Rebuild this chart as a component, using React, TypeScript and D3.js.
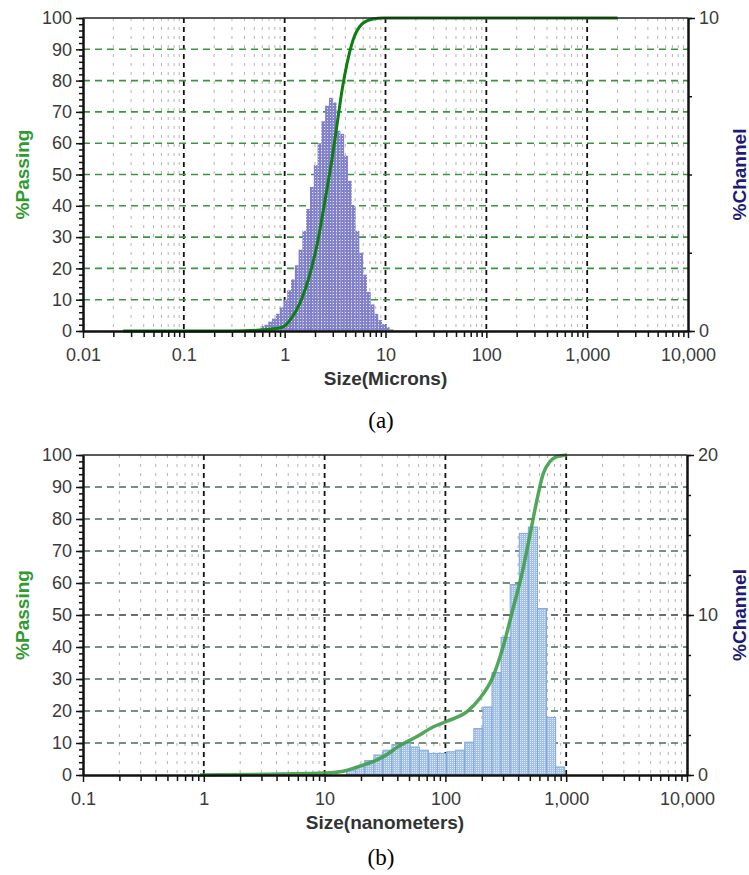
import React, { useEffect, useRef } from "react";
import * as d3 from "d3";

// panel (a): channel edges in microns and % channel per bin
const microEdges = [0.578, 0.63, 0.688, 0.75, 0.818, 0.892, 0.972, 1.06, 1.156, 1.261, 1.375, 1.499, 1.635, 1.783, 1.945, 2.121, 2.312, 2.52, 2.75, 3.0, 3.27, 3.57, 3.89, 4.24, 4.62, 5.04, 5.5, 6.0, 6.54, 7.13, 7.78, 8.48, 9.25, 10.1, 11.0, 12.0];
const microChannel = [0.15, 0.2, 0.3, 0.4, 0.55, 0.75, 1.0, 1.3, 1.65, 2.1, 2.6, 3.2, 3.9, 4.6, 5.3, 6.0, 6.7, 7.2, 7.45, 7.3, 6.4, 6.3, 5.6, 4.8, 4.0, 3.2, 2.5, 1.8, 1.25, 0.85, 0.55, 0.35, 0.22, 0.12, 0.05];
const microCurveSize = [0.025, 0.3, 0.57, 0.72, 0.9, 1.0, 1.13, 1.42, 1.79, 2.14, 2.52, 2.95, 3.31, 3.71, 4.16, 4.77, 6.0, 7.5, 9.5, 12, 2000];
const microCurvePass = [0, 0, 0.3, 0.6, 1.0, 1.6, 3.5, 9, 18.5, 29, 42, 55, 66, 77, 85.6, 93, 98.4, 99.7, 100, 100, 100];
const microTicks = [0.01, 0.1, 1, 10, 100, 1000, 10000];

// panel (b): channel edges in nanometers and % channel per bin
const nanoEdges = [15.2, 18.1, 21.5, 25.6, 30.4, 36.1, 43.0, 51.1, 60.8, 72.3, 85.9, 102.2, 121.5, 144.5, 171.9, 204.4, 243.1, 289.1, 343.8, 408.8, 486.2, 578.2, 688, 818, 972];
const nanoChannel = [0.3, 0.55, 0.9, 1.25, 1.55, 1.9, 2.0, 1.75, 1.55, 1.35, 1.35, 1.45, 1.55, 2.05, 2.9, 4.25, 6.4, 8.6, 11.9, 15.1, 15.5, 10.4, 3.6, 0.5];
const nanoCurveSize = [0.93, 4.5, 10, 13.4, 20.4, 25.2, 29.9, 42.1, 58.2, 78.9, 103, 151, 193, 243, 300, 363, 431, 501, 573, 643, 735, 839, 1016];
const nanoCurvePass = [0, 0.3, 0.6, 1.0, 3.0, 4.2, 5.5, 9.2, 12, 15, 16.8, 19.8, 24, 30, 40, 52, 63, 75, 86, 94, 98, 99.5, 100];
const nanoTicks = [0.1, 1, 10, 100, 1000, 10000];

const passingTicks = d3.range(0, 101, 10);
const FONT = "'Liberation Sans', Arial, sans-serif";

function drawPanel(svg, p) {
  const x = d3.scaleLog().domain([p.ticks[0], p.ticks[p.ticks.length - 1]]).range([p.left, p.right]);
  const yL = d3.scaleLinear().domain([0, 100]).range([p.bottom, p.top]);
  const yR = d3.scaleLinear().domain([0, p.rightMax]).range([p.bottom, p.top]);
  const g = svg.append("g");

  let minors = [];
  p.ticks.slice(0, -1).forEach(d => {
    for (let k = 2; k <= 9; k++) minors.push(d * k);
  });

  // grid
  g.append("g")
    .selectAll("line")
    .data(minors)
    .join("line")
    .attr("x1", d => x(d))
    .attr("x2", d => x(d))
    .attr("y1", p.top)
    .attr("y2", p.bottom)
    .attr("stroke", "#b4b4b4")
    .attr("stroke-width", 1)
    .attr("stroke-dasharray", "3,6");

  g.append("g")
    .selectAll("line")
    .data(p.ticks.slice(1, -1))
    .join("line")
    .attr("x1", d => x(d))
    .attr("x2", d => x(d))
    .attr("y1", p.top)
    .attr("y2", p.bottom)
    .attr("stroke", "#111")
    .attr("stroke-width", 1.8)
    .attr("stroke-dasharray", "5,4");

  g.append("g")
    .selectAll("line")
    .data(d3.range(10, 100, 10))
    .join("line")
    .attr("x1", p.left)
    .attr("x2", p.right)
    .attr("y1", d => yL(d))
    .attr("y2", d => yL(d))
    .attr("stroke", d => (p.darkMid && d === 50 ? "#3a3f3a" : p.gridColor))
    .attr("stroke-width", 1.6)
    .attr("stroke-dasharray", "7,5");

  // % channel bars
  g.append("g")
    .selectAll("rect")
    .data(p.channel)
    .join("rect")
    .attr("x", (d, i) => x(p.edges[i]))
    .attr("width", (d, i) => x(p.edges[i + 1]) - x(p.edges[i]))
    .attr("y", d => yR(d))
    .attr("height", d => p.bottom - yR(d))
    .attr("fill", `url(#${p.pattern})`)
    .attr("stroke", p.barStroke)
    .attr("stroke-width", p.barStroke === "none" ? 0 : 1);

  // % passing curve
  const line = d3
    .line()
    .x(d => x(d[0]))
    .y(d => yL(d[1]))
    .curve(d3.curveMonotoneX);

  g.append("path")
    .datum(p.curveSize.map((s, i) => [s, p.curvePass[i]]))
    .attr("d", line)
    .attr("fill", "none")
    .attr("stroke", p.curveColor)
    .attr("stroke-width", p.curveWidth)
    .attr("stroke-opacity", p.curveOpacity);

  // frame
  g.append("line")
    .attr("x1", p.left).attr("x2", p.right)
    .attr("y1", p.top).attr("y2", p.top)
    .attr("stroke", "#222").attr("stroke-width", 1.5);

  const styleAxis = sel => {
    sel.attr("font-family", FONT).attr("font-size", 18).attr("color", "#111");
    sel.selectAll("text").attr("fill", "#3a3a3a");
    sel.select(".domain").attr("stroke-width", 2);
    sel.selectAll(".tick line").attr("stroke-width", 1.5);
  };

  // left axis
  g.append("g")
    .attr("transform", `translate(${p.left},0)`)
    .call(d3.axisLeft(yL).tickValues(d3.range(0, 101, 2)).tickSize(4).tickSizeOuter(0).tickFormat(() => ""))
    .call(styleAxis);
  g.append("g")
    .attr("transform", `translate(${p.left},0)`)
    .call(d3.axisLeft(yL).tickValues(passingTicks).tickSize(7).tickSizeOuter(0).tickPadding(4))
    .call(styleAxis);

  // right axis
  g.append("g")
    .attr("transform", `translate(${p.right},0)`)
    .call(d3.axisRight(yR).tickValues(d3.range(0, p.rightMax + 0.1, 2.5)).tickSize(4).tickSizeOuter(0).tickFormat(() => ""))
    .call(styleAxis);
  g.append("g")
    .attr("transform", `translate(${p.right},0)`)
    .call(d3.axisRight(yR).tickValues(p.rightTicks).tickSize(7).tickSizeOuter(0).tickPadding(4))
    .call(styleAxis);

  // bottom axis
  g.append("g")
    .attr("transform", `translate(0,${p.bottom})`)
    .call(d3.axisBottom(x).tickValues(minors).tickSize(6).tickSizeOuter(0).tickFormat(() => ""))
    .call(styleAxis);
  g.append("g")
    .attr("transform", `translate(0,${p.bottom})`)
    .call(d3.axisBottom(x).tickValues(p.ticks).tickSize(7).tickSizeOuter(0).tickPadding(10).tickFormat(d3.format(",")))
    .call(styleAxis);

  // titles
  g.append("text")
    .attr("x", (p.left + p.right) / 2)
    .attr("y", p.bottom + 54)
    .attr("text-anchor", "middle")
    .attr("font-family", FONT)
    .attr("font-weight", "bold")
    .attr("font-size", 19)
    .attr("fill", "#333")
    .text(p.xTitle);

  const mid = (p.top + p.bottom) / 2;
  g.append("text")
    .attr("transform", `translate(29,${mid}) rotate(-90)`)
    .attr("text-anchor", "middle")
    .attr("font-family", FONT)
    .attr("font-weight", "bold")
    .attr("font-size", 19)
    .attr("fill", "#2f9a2f")
    .text("%Passing");

  g.append("text")
    .attr("transform", `translate(746,${mid}) rotate(-90)`)
    .attr("text-anchor", "middle")
    .attr("font-family", FONT)
    .attr("font-weight", "bold")
    .attr("font-size", 19)
    .attr("fill", "#1c1c78")
    .text("%Channel");

  g.append("text")
    .attr("x", 381)
    .attr("y", p.bottom + p.tagOffset)
    .attr("text-anchor", "middle")
    .attr("font-family", "'Liberation Serif', 'Times New Roman', serif")
    .attr("font-size", 23)
    .attr("fill", "#000")
    .text(p.tag);
}

export default function App() {
  const ref = useRef(null);

  useEffect(() => {
    const svg = d3.select(ref.current);
    svg.selectAll("*").remove();

    const defs = svg.append("defs");
    const patA = defs.append("pattern")
      .attr("id", "dotsA")
      .attr("patternUnits", "userSpaceOnUse")
      .attr("width", 3)
      .attr("height", 3);
    patA.append("rect").attr("width", 3).attr("height", 3).attr("fill", "#8080cb");
    patA.append("rect").attr("width", 1).attr("height", 1).attr("fill", "#e4e4f6");

    const patB = defs.append("pattern")
      .attr("id", "dotsB")
      .attr("patternUnits", "userSpaceOnUse")
      .attr("width", 2)
      .attr("height", 2);
    patB.append("rect").attr("width", 2).attr("height", 2).attr("fill", "#a2c0e8");
    patB.append("rect").attr("width", 1).attr("height", 1).attr("fill", "#dfe9f7");

    svg.append("rect").attr("width", 749).attr("height", 875).attr("fill", "#fff");

    drawPanel(svg, {
      left: 83, right: 688, top: 18, bottom: 331,
      ticks: microTicks,
      edges: microEdges, channel: microChannel,
      curveSize: microCurveSize, curvePass: microCurvePass,
      rightMax: 10, rightTicks: [0, 10],
      gridColor: "#3b963b", darkMid: false,
      pattern: "dotsA", barStroke: "none",
      curveColor: "#0e7d12", curveWidth: 3, curveOpacity: 1,
      xTitle: "Size(Microns)", tag: "(a)", tagOffset: 97
    });

    drawPanel(svg, {
      left: 83, right: 687, top: 455, bottom: 775,
      ticks: nanoTicks,
      edges: nanoEdges, channel: nanoChannel,
      curveSize: nanoCurveSize, curvePass: nanoCurvePass,
      rightMax: 20, rightTicks: [0, 10, 20],
      gridColor: "#4b6e56", darkMid: true,
      pattern: "dotsB", barStroke: "#7ea7dc",
      curveColor: "#3e9e48", curveWidth: 3.5, curveOpacity: 0.9,
      xTitle: "Size(nanometers)", tag: "(b)", tagOffset: 90
    });
  }, []);

  return (
    <svg
      ref={ref}
      width={749}
      height={875}
      style={{ position: "absolute", left: 0, top: 0, display: "block" }}
    />
  );
}
